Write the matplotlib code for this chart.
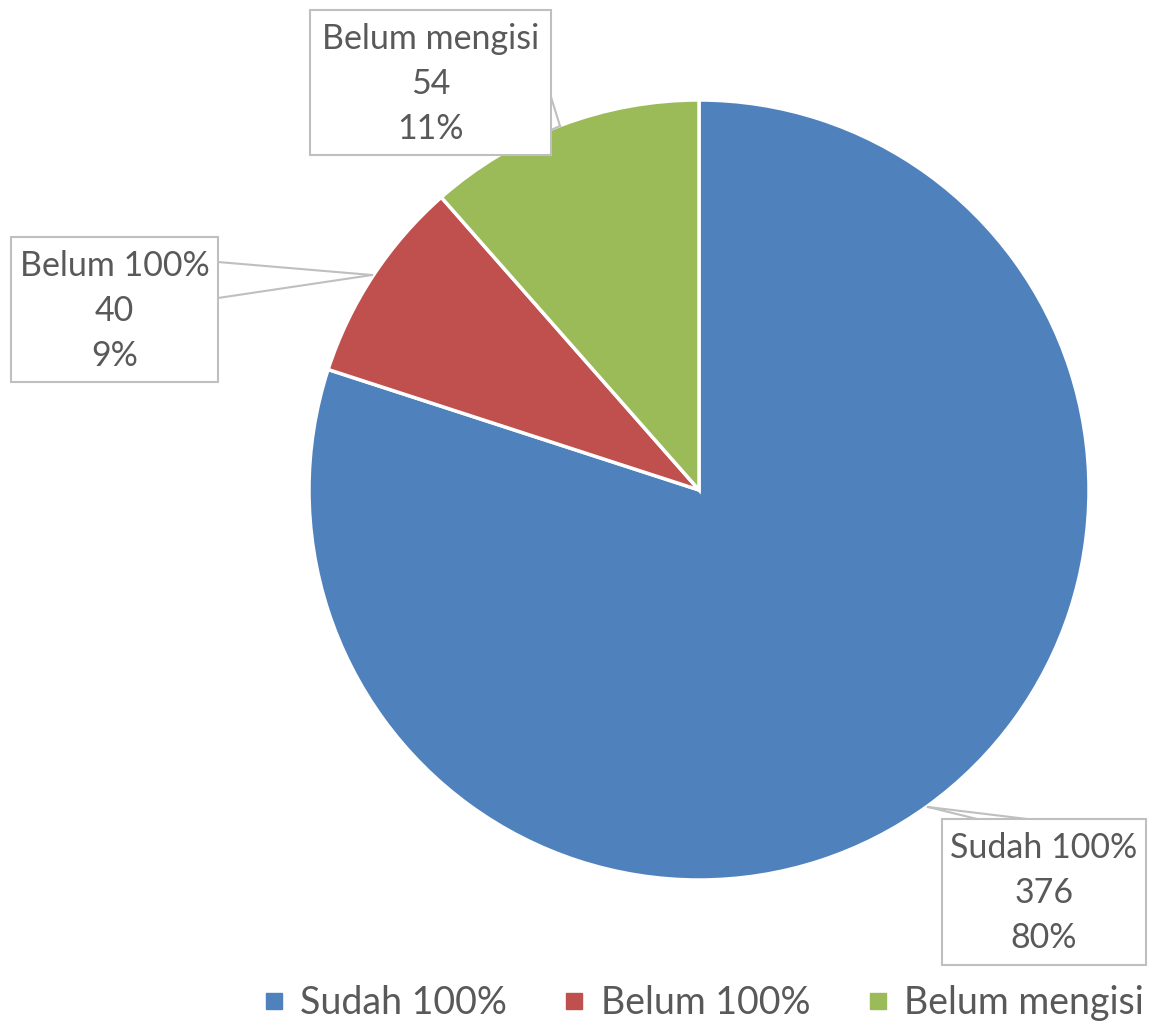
import matplotlib.pyplot as plt
from matplotlib.lines import Line2D
from matplotlib.patches import Rectangle

labels = ['Sudah 100%', 'Belum 100%', 'Belum mengisi']
values = [376, 40, 54]
colors = ['#4F81BD', '#C0504D', '#9BBB59']

W, H = 1157, 1028
text_col = '#595959'
edge_col = '#BFBFBF'

fig = plt.figure(figsize=(W / 100, H / 100), dpi=100)
ax = fig.add_axes([0, 0, 1, 1])

# pie centre / radius in pixel units (y measured from bottom)
cx, cy, r = 699, H - 490, 390
ax.pie(values, colors=colors, startangle=90, counterclock=False,
       center=(cx, cy), radius=r,
       wedgeprops=dict(edgecolor='white', linewidth=2.5))
ax.set_xlim(0, W)
ax.set_ylim(0, H)
ax.set_aspect('equal')
ax.axis('off')

total = sum(values)
# callout boxes: (left, top, right, bottom) in pixels from top-left, leader tip and base
boxes = [
    dict(box=(942, 819, 1146, 965), tip=(928, 807), base=[(1027, 819), (977, 819)]),
    dict(box=(11, 237, 218, 382), tip=(372, 275), base=[(218, 262), (218, 298)]),
    dict(box=(310, 10, 551, 155), tip=(560, 126), base=[(551, 97), (551, 130)]),
]
for lab, v, b in zip(labels, values, boxes):
    l, t, rr, bt = b['box']
    ax.add_patch(Rectangle((l, H - bt), rr - l, bt - t, fc='white', ec=edge_col,
                           lw=1.5, zorder=4))
    for bx, by in b['base']:
        ax.plot([b['tip'][0], bx], [H - b['tip'][1], H - by], color=edge_col,
                lw=1.5, zorder=3)
    lines = [lab, str(v), '%d%%' % round(v / total * 100)]
    for i, s in enumerate(lines):
        ax.text((l + rr) / 2, H - (t + 29 + 45 * i), s, ha='center', va='center',
                fontsize=24.5, family='Lato', color=text_col, zorder=5)

handles = [Line2D([], [], ls='none', marker='s', markersize=11.5,
                  markerfacecolor=c, markeredgecolor=c) for c in colors]
fig.legend(handles, labels, loc='center', bbox_to_anchor=(0.606, 0.024),
           ncol=3, frameon=False, handletextpad=0.3, columnspacing=1.4,
           handlelength=0.8, prop=dict(family='Lato', size=27),
           labelcolor=text_col)

fig.savefig('out.png', dpi=100)
